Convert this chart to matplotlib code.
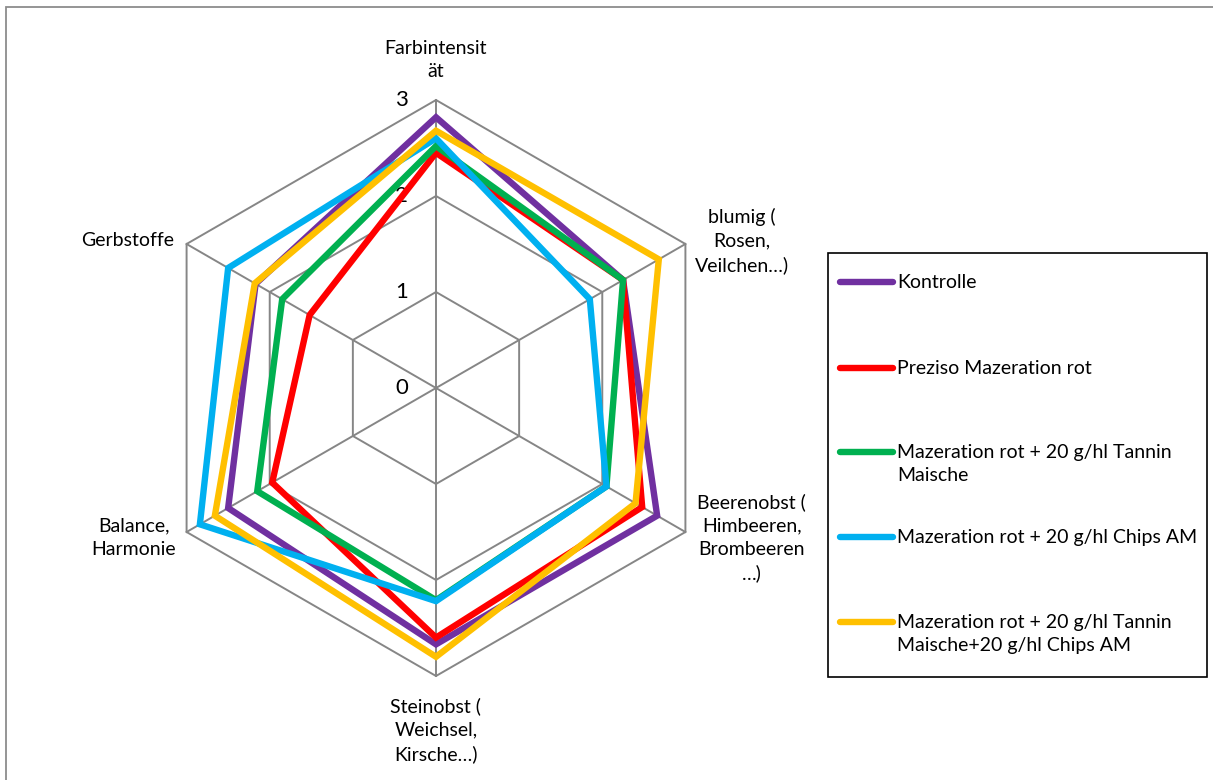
import numpy as np
import matplotlib
matplotlib.use("Agg")
import matplotlib.pyplot as plt
from matplotlib.lines import Line2D
from matplotlib.patches import Rectangle, Polygon

plt.rcParams['font.family'] = ['Lato', 'DejaVu Sans']

categories = ["Farbintensit\nät", "blumig (\nRosen,\nVeilchen…)",
              "Beerenobst (\nHimbeeren,\nBrombeeren\n…)",
              "Steinobst (\nWeichsel,\nKirsche…)", "Balance,\nHarmonie", "Gerbstoffe"]
series_names = ["Kontrolle", "Preziso Mazeration rot",
                "Mazeration rot + 20 g/hl Tannin\nMaische",
                "Mazeration rot + 20 g/hl Chips AM",
                "Mazeration rot + 20 g/hl Tannin\nMaische+20 g/hl Chips AM"]
kontrolle = [2.82, 2.25, 2.66, 2.67, 2.50, 2.17]
preziso = [2.45, 2.25, 2.48, 2.60, 1.97, 1.52]
tannin = [2.52, 2.25, 2.05, 2.21, 2.15, 1.85]
chips = [2.60, 1.85, 2.05, 2.22, 2.84, 2.50]
tannin_chips = [2.68, 2.68, 2.40, 2.80, 2.66, 2.18]
tick_values = [0, 1, 2, 3]

colors = ["#7030A0", "#FF0000", "#00B050", "#00B0F0", "#FFC000"]
all_series = [kontrolle, preziso, tannin, chips, tannin_chips]

W, H = 1213, 780
fig = plt.figure(figsize=(W / 100, H / 100), dpi=100)
# outer chart border
fig.add_artist(Rectangle((6 / W, -0.05), 1.2, (H - 7) / H + 0.05, transform=fig.transFigure,
                         fill=False, edgecolor="#8c8c8c", linewidth=1.3))

cx, cy, unit = 436, 388, 96.0
half = 336
ax = fig.add_axes([(cx - half) / W, (H - cy - half) / H, 2 * half / W, 2 * half / H])
ax.set_xlim(-half / unit, half / unit)
ax.set_ylim(-half / unit, half / unit)
ax.axis("off")

n = len(categories)
angles = np.pi / 2 - np.arange(n) * 2 * np.pi / n
ca, sa = np.cos(angles), np.sin(angles)

gridc = "#868686"
for t in tick_values[1:]:
    ax.add_patch(Polygon(np.column_stack([t * ca, t * sa]), closed=True, fill=False,
                         edgecolor=gridc, lw=1.4, zorder=1))
rmax = tick_values[-1]
for i in range(n):
    ax.plot([0, rmax * ca[i]], [0, rmax * sa[i]], color=gridc, lw=1.4, zorder=1)

for vals, c in zip(all_series, colors):
    v = np.array(vals)
    ax.add_patch(Polygon(np.column_stack([v * ca, v * sa]), closed=True, fill=False,
                         edgecolor=c, lw=4.6, joinstyle="miter", zorder=3))

for t in tick_values:
    ax.text(-0.29, t, str(t), ha="right", va="center", fontsize=16, color="#000000", zorder=2)

fs = 14
label_pos = [(0, 3.42), (3.19, 1.53), (3.29, -1.56), (0, -3.56), (-3.15, -1.56), (-3.21, 1.54)]
for lab, (lx, ly) in zip(categories, label_pos):
    ax.text(lx, ly, lab, ha="center", va="center", fontsize=fs, linespacing=1.45,
            clip_on=False, color="#000000")

# legend box
lx0, ly0, lx1, ly1 = 828, 253, 1207, 677
fig.add_artist(Rectangle((lx0 / W, 1 - ly1 / H), (lx1 - lx0) / W, (ly1 - ly0) / H,
                         transform=fig.transFigure, fill=False, edgecolor="black", linewidth=1.2))
entry_y = [282, 368, 452, 537, 622]
for name, c, ey in zip(series_names, colors, entry_y):
    fig.add_artist(Line2D([840 / W, 893 / W], [1 - ey / H, 1 - ey / H], transform=fig.transFigure,
                          color=c, lw=4.6, solid_capstyle="round"))
    fig.text(897 / W, 1 - (ey - 8) / H, name, ha="left", va="top", fontsize=fs,
             linespacing=1.45, color="#000000")

fig.savefig("out.png", dpi=100)
